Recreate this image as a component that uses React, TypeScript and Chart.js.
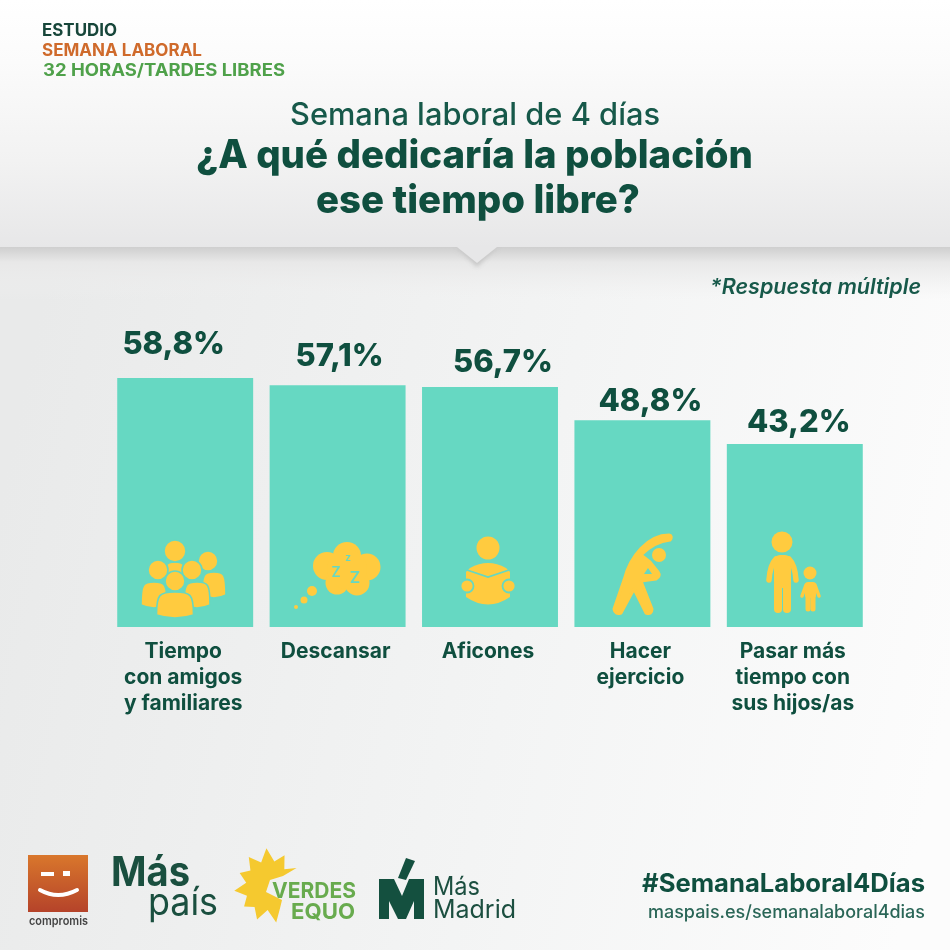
import React, { useEffect, useRef } from "react";
import { Chart, registerables } from "chart.js";

Chart.register(...registerables);

const categories: string[][] = [
  ["Tiempo", "con amigos", "y familiares"],
  ["Descansar"],
  ["Aficones"],
  ["Hacer", "ejercicio"],
  ["Pasar más", "tiempo con", "sus hijos/as"],
];
const shares = [58.8, 57.1, 56.7, 48.8, 43.2];
const valueLabels = ["58,8%", "57,1%", "56,7%", "48,8%", "43,2%"];
const headerLines = ["ESTUDIO", "SEMANA LABORAL", "32 HORAS/TARDES LIBRES"];
const titleLines = ["Semana laboral de 4 días", "¿A qué dedicaría la población", "ese tiempo libre?"];
const noteText = "*Respuesta múltiple";
const hashtag = "#SemanaLaboral4Días";
const siteUrl = "maspais.es/semanalaboral4dias";

const labelGaps = [33, 29, 24, 19, 21];
const labelShifts = [-11.5, 2, 13, 8, 4];
const DARK = "#0f4f3f";
const TEAL = "#66d8c2";
const YELLOW = "#ffcb3f";
const FONT = "Inter, 'Noto Sans', sans-serif";

type C = CanvasRenderingContext2D;

function fitText(ctx: C, s: string, x: number, y: number, w: number, font: string, color: string) {
  ctx.save();
  ctx.font = font;
  ctx.fillStyle = color;
  ctx.textAlign = "left";
  ctx.textBaseline = "alphabetic";
  const m = ctx.measureText(s).width;
  ctx.translate(x, y);
  ctx.scale(w / m, 1);
  ctx.fillText(s, 0, 0);
  ctx.restore();
}

function dot(ctx: C, x: number, y: number, r: number) {
  ctx.beginPath();
  ctx.arc(x, y, r, 0, Math.PI * 2);
  ctx.fill();
}

function body(ctx: C, cx: number, bw: number, top: number, bottom: number) {
  ctx.beginPath();
  ctx.moveTo(cx - bw / 2, bottom - 3);
  ctx.bezierCurveTo(cx - bw / 2, top + 2, cx - bw * 0.42, top, cx, top);
  ctx.bezierCurveTo(cx + bw * 0.42, top, cx + bw / 2, top + 2, cx + bw / 2, bottom - 3);
  ctx.quadraticCurveTo(cx, bottom + 3, cx - bw / 2, bottom - 3);
  ctx.closePath();
  ctx.fill();
  ctx.stroke();
}

function head(ctx: C, cx: number, cy: number, r: number) {
  ctx.beginPath();
  ctx.arc(cx, cy, r, 0, Math.PI * 2);
  ctx.fill();
  ctx.stroke();
}

function drawPeople(ctx: C) {
  ctx.save();
  ctx.fillStyle = YELLOW;
  ctx.strokeStyle = TEAL;
  ctx.lineWidth = 1.6;
  body(ctx, 214, 24, 572, 598);
  head(ctx, 208, 561, 10);
  body(ctx, 175, 22, 562, 586);
  head(ctx, 175, 551, 11);
  body(ctx, 154, 26, 582, 608);
  body(ctx, 197, 26, 582, 608);
  head(ctx, 158, 570, 10);
  head(ctx, 192, 570, 10);
  body(ctx, 175, 37, 592, 618);
  head(ctx, 175, 581, 10);
  ctx.restore();
}

function drawCloud(ctx: C) {
  ctx.save();
  ctx.fillStyle = YELLOW;
  const lobes = [[347, 556, 14], [327, 566, 14], [367, 567, 13.5], [337, 583, 11.5], [357, 583, 12.5], [347, 569, 20]];
  lobes.forEach(([x, y, r]) => dot(ctx, x, y, r));
  dot(ctx, 312, 591, 5);
  dot(ctx, 304, 600, 3.5);
  dot(ctx, 296, 607, 2);
  ctx.fillStyle = TEAL;
  ctx.textAlign = "center";
  ctx.font = `600 10px ${FONT}`;
  ctx.fillText("z", 348, 561);
  ctx.font = `600 14px ${FONT}`;
  ctx.fillText("Z", 336, 577);
  ctx.font = `600 16px ${FONT}`;
  ctx.fillText("Z", 355, 583);
  ctx.restore();
}

function drawReader(ctx: C) {
  ctx.save();
  ctx.fillStyle = YELLOW;
  dot(ctx, 488, 548, 11.5);
  ctx.beginPath();
  ctx.moveTo(470, 568);
  ctx.quadraticCurveTo(488, 558, 506, 568);
  ctx.lineTo(510, 572);
  ctx.lineTo(510, 597);
  ctx.quadraticCurveTo(488, 612, 466, 597);
  ctx.lineTo(466, 572);
  ctx.closePath();
  ctx.fill();
  ctx.strokeStyle = TEAL;
  ctx.lineWidth = 1.8;
  ctx.beginPath();
  ctx.moveTo(467, 570);
  ctx.lineTo(488, 577);
  ctx.lineTo(509, 570);
  ctx.stroke();
  [467, 509].forEach((x) => {
    ctx.beginPath();
    ctx.arc(x, 586, 6.5, 0, Math.PI * 2);
    ctx.fill();
    ctx.stroke();
  });
  ctx.restore();
}

function drawExercise(ctx: C) {
  ctx.save();
  ctx.fillStyle = YELLOW;
  ctx.strokeStyle = YELLOW;
  ctx.lineJoin = "round";
  ctx.lineWidth = 3;
  dot(ctx, 659, 555, 7);
  ctx.beginPath();
  ctx.moveTo(669, 535);
  ctx.bezierCurveTo(648, 535, 630, 556, 624, 580);
  ctx.lineTo(614, 609);
  ctx.quadraticCurveTo(615, 615, 621, 613);
  ctx.lineTo(634, 589);
  ctx.lineTo(646, 613);
  ctx.quadraticCurveTo(652, 615, 652, 609);
  ctx.lineTo(641, 581);
  ctx.lineTo(656, 579);
  ctx.quadraticCurveTo(661, 576, 658, 572);
  ctx.lineTo(650, 562);
  ctx.lineTo(641, 555);
  ctx.bezierCurveTo(650, 546, 660, 541, 670, 540);
  ctx.quadraticCurveTo(673, 536, 669, 535);
  ctx.closePath();
  ctx.fill();
  ctx.stroke();
  ctx.fillStyle = TEAL;
  ctx.beginPath();
  ctx.moveTo(648, 568);
  ctx.lineTo(652, 574);
  ctx.lineTo(644, 574);
  ctx.closePath();
  ctx.fill();
  ctx.restore();
}

function drawFamily(ctx: C) {
  ctx.save();
  ctx.fillStyle = YELLOW;
  ctx.strokeStyle = YELLOW;
  ctx.lineCap = "round";
  dot(ctx, 782, 542, 10.5);
  dot(ctx, 810, 573, 6.5);
  ctx.beginPath();
  ctx.roundRect(774, 555, 17, 33, 6);
  ctx.fill();
  ctx.lineWidth = 8;
  [778, 787].forEach((x) => {
    ctx.beginPath();
    ctx.moveTo(x, 585);
    ctx.lineTo(x, 609);
    ctx.stroke();
  });
  ctx.lineWidth = 5.5;
  ctx.beginPath();
  ctx.moveTo(776, 559);
  ctx.quadraticCurveTo(770, 565, 769, 580);
  ctx.moveTo(789, 559);
  ctx.quadraticCurveTo(795, 565, 796, 580);
  ctx.stroke();
  ctx.beginPath();
  ctx.roundRect(805, 582, 11, 16, 3);
  ctx.fill();
  ctx.lineWidth = 5;
  [808, 813].forEach((x) => {
    ctx.beginPath();
    ctx.moveTo(x, 596);
    ctx.lineTo(x, 609);
    ctx.stroke();
  });
  ctx.lineWidth = 3.5;
  ctx.beginPath();
  ctx.moveTo(806, 585);
  ctx.lineTo(802, 596);
  ctx.moveTo(815, 585);
  ctx.lineTo(819, 596);
  ctx.stroke();
  ctx.restore();
}

function drawCompromis(ctx: C) {
  ctx.save();
  const g = ctx.createLinearGradient(0, 855, 0, 912);
  g.addColorStop(0, "#d9772c");
  g.addColorStop(1, "#b5432a");
  ctx.fillStyle = g;
  ctx.fillRect(28, 855, 60, 57);
  ctx.fillStyle = "#fff";
  ctx.fillRect(41, 872, 13, 4);
  ctx.fillRect(63, 871, 7, 5);
  ctx.strokeStyle = "#fff";
  ctx.lineWidth = 4;
  ctx.lineCap = "round";
  ctx.beginPath();
  ctx.moveTo(40, 890);
  ctx.quadraticCurveTo(58, 900, 77, 890);
  ctx.stroke();
  ctx.restore();
  fitText(ctx, "compromis", 29, 925, 59, `600 12px ${FONT}`, "#444");
}

function drawSun(ctx: C) {
  ctx.save();
  ctx.fillStyle = "#f5c92f";
  const cx = 270;
  const cy = 886;
  const radii = [24, 37, 24, 36, 26, 33, 25, 36, 24, 33, 25, 36, 25, 38, 25, 34, 22, 32];
  ctx.beginPath();
  const start = (65 * Math.PI) / 180;
  const span = (261 * Math.PI) / 180;
  radii.forEach((r, i) => {
    const a = start + (span * i) / (radii.length - 1);
    const x = cx + r * Math.cos(a);
    const y = cy + r * Math.sin(a);
    if (i === 0) ctx.moveTo(x, y);
    else ctx.lineTo(x, y);
  });
  ctx.lineTo(283, 876);
  ctx.lineTo(270, 880);
  ctx.lineTo(266, 892);
  ctx.lineTo(282, 900);
  ctx.closePath();
  ctx.fill();
  ctx.restore();
  fitText(ctx, "VERDES", 272, 898, 84, `700 22px ${FONT}`, "#68ab4e");
  fitText(ctx, "EQUO", 291, 919, 64, `700 22px ${FONT}`, "#68ab4e");
}

function drawMadrid(ctx: C) {
  ctx.save();
  ctx.fillStyle = "#14503f";
  ctx.beginPath();
  ctx.moveTo(379, 879);
  ctx.lineTo(394, 879);
  ctx.lineTo(402, 896);
  ctx.lineTo(409, 879);
  ctx.lineTo(424, 879);
  ctx.lineTo(424, 919);
  ctx.lineTo(414, 919);
  ctx.lineTo(414, 901);
  ctx.lineTo(406, 919);
  ctx.lineTo(398, 919);
  ctx.lineTo(389, 901);
  ctx.lineTo(389, 919);
  ctx.lineTo(379, 919);
  ctx.closePath();
  ctx.fill();
  ctx.beginPath();
  ctx.moveTo(406, 858);
  ctx.lineTo(415, 861);
  ctx.lineTo(406, 880);
  ctx.lineTo(398, 878);
  ctx.closePath();
  ctx.fill();
  ctx.restore();
  fitText(ctx, "Más", 433, 895, 47, `400 25px ${FONT}`, "#1c4f40");
  fitText(ctx, "Madrid", 433, 918, 83, `400 25px ${FONT}`, "#1c4f40");
}

const artwork = {
  id: "artwork",
  beforeDraw(chart: Chart) {
    const ctx = chart.ctx as C;
    ctx.save();
    const lower = ctx.createLinearGradient(0, 500, 950, 700);
    lower.addColorStop(0, "#e9eaea");
    lower.addColorStop(0.55, "#f3f4f4");
    lower.addColorStop(1, "#fcfcfc");
    ctx.fillStyle = lower;
    ctx.fillRect(0, 0, 950, 950);
    const band = ctx.createLinearGradient(0, 246, 0, 300);
    band.addColorStop(0, "#cdcdcd");
    band.addColorStop(0.3, "#e8e8e8");
    band.addColorStop(1, "rgba(240,240,240,0)");
    ctx.fillStyle = band;
    ctx.fillRect(0, 246, 950, 54);
    const top = ctx.createLinearGradient(0, 0, 0, 247);
    top.addColorStop(0, "#ffffff");
    top.addColorStop(0.25, "#fbfbfb");
    top.addColorStop(0.65, "#f2f2f2");
    top.addColorStop(1, "#e7e7e8");
    ctx.fillStyle = "#c6c6c6";
    ctx.beginPath();
    ctx.moveTo(456, 247);
    ctx.lineTo(477, 267);
    ctx.lineTo(498, 247);
    ctx.closePath();
    ctx.filter = "blur(2px)";
    ctx.fill();
    ctx.filter = "none";
    ctx.fillStyle = top;
    ctx.beginPath();
    ctx.moveTo(0, 0);
    ctx.lineTo(950, 0);
    ctx.lineTo(950, 247);
    ctx.lineTo(497, 247);
    ctx.lineTo(477, 263);
    ctx.lineTo(457, 247);
    ctx.lineTo(0, 247);
    ctx.closePath();
    ctx.fill();
    ctx.restore();

    fitText(ctx, headerLines[0], 42, 36, 75, `700 17px ${FONT}`, "#17463a");
    fitText(ctx, headerLines[1], 42, 56, 160, `700 17px ${FONT}`, "#cf6a2b");
    fitText(ctx, headerLines[2], 43, 76, 242, `700 17px ${FONT}`, "#4fa14a");
    fitText(ctx, titleLines[0], 290, 125, 370, `500 31px ${FONT}`, "#17594a");
    fitText(ctx, titleLines[1], 196, 168, 557, `800 39px ${FONT}`, DARK);
    fitText(ctx, titleLines[2], 316, 213, 324, `800 39px ${FONT}`, DARK);
    fitText(ctx, noteText, 710, 294, 211, `italic 600 21px ${FONT}`, "#17594a");

    drawCompromis(ctx);
    fitText(ctx, "Más", 111, 886, 79, `700 41px ${FONT}`, "#1a4f3f");
    fitText(ctx, "país", 148, 915, 70, `400 38px ${FONT}`, "#1a4f3f");
    drawSun(ctx);
    drawMadrid(ctx);
    fitText(ctx, hashtag, 642, 892, 283, `700 25px ${FONT}`, DARK);
    fitText(ctx, siteUrl, 648, 918, 277, `500 18px ${FONT}`, "#2a6657");
  },
  afterDatasetsDraw(chart: Chart) {
    const ctx = chart.ctx as C;
    const bars = chart.getDatasetMeta(0).data;
    drawPeople(ctx);
    drawCloud(ctx);
    drawReader(ctx);
    drawExercise(ctx);
    drawFamily(ctx);
    ctx.save();
    ctx.font = `800 31px ${FONT}`;
    ctx.fillStyle = DARK;
    ctx.textAlign = "center";
    ctx.textBaseline = "middle";
    bars.forEach((b: any, i: number) => {
      ctx.fillText(valueLabels[i], b.x + labelShifts[i], b.y - labelGaps[i]);
    });
    ctx.restore();
  },
};

export default function App() {
  const ref = useRef<HTMLCanvasElement>(null);
  useEffect(() => {
    if (!ref.current) return;
    const chart = new Chart(ref.current, {
      type: "bar",
      data: {
        labels: categories as any,
        datasets: [
          {
            data: shares,
            backgroundColor: TEAL,
            borderWidth: 0,
            barPercentage: 0.892,
            categoryPercentage: 1,
          },
        ],
      },
      options: {
        responsive: false,
        animation: false,
        layout: { padding: { left: 109, right: 79, top: 309.4, bottom: 223 } },
        plugins: { legend: { display: false }, tooltip: { enabled: false }, title: { display: false } },
        scales: {
          y: { display: false, min: 0, max: 75 },
          x: {
            afterFit(scale: any) {
              scale.height = 100;
            },
            grid: { display: false, drawTicks: false },
            border: { display: false },
            ticks: {
              autoSkip: false,
              maxRotation: 0,
              minRotation: 0,
              padding: 12,
              labelOffset: -2,
              color: DARK,
              font: { family: FONT, size: 21, weight: 700, lineHeight: 1.24 },
            },
          },
        },
      },
      plugins: [artwork],
    } as any);
    return () => chart.destroy();
  }, []);
  return (
    <div style={{ position: "absolute", left: 0, top: 0, width: 950, height: 950 }}>
      <canvas ref={ref} width={950} height={950} style={{ display: "block" }} />
    </div>
  );
}
